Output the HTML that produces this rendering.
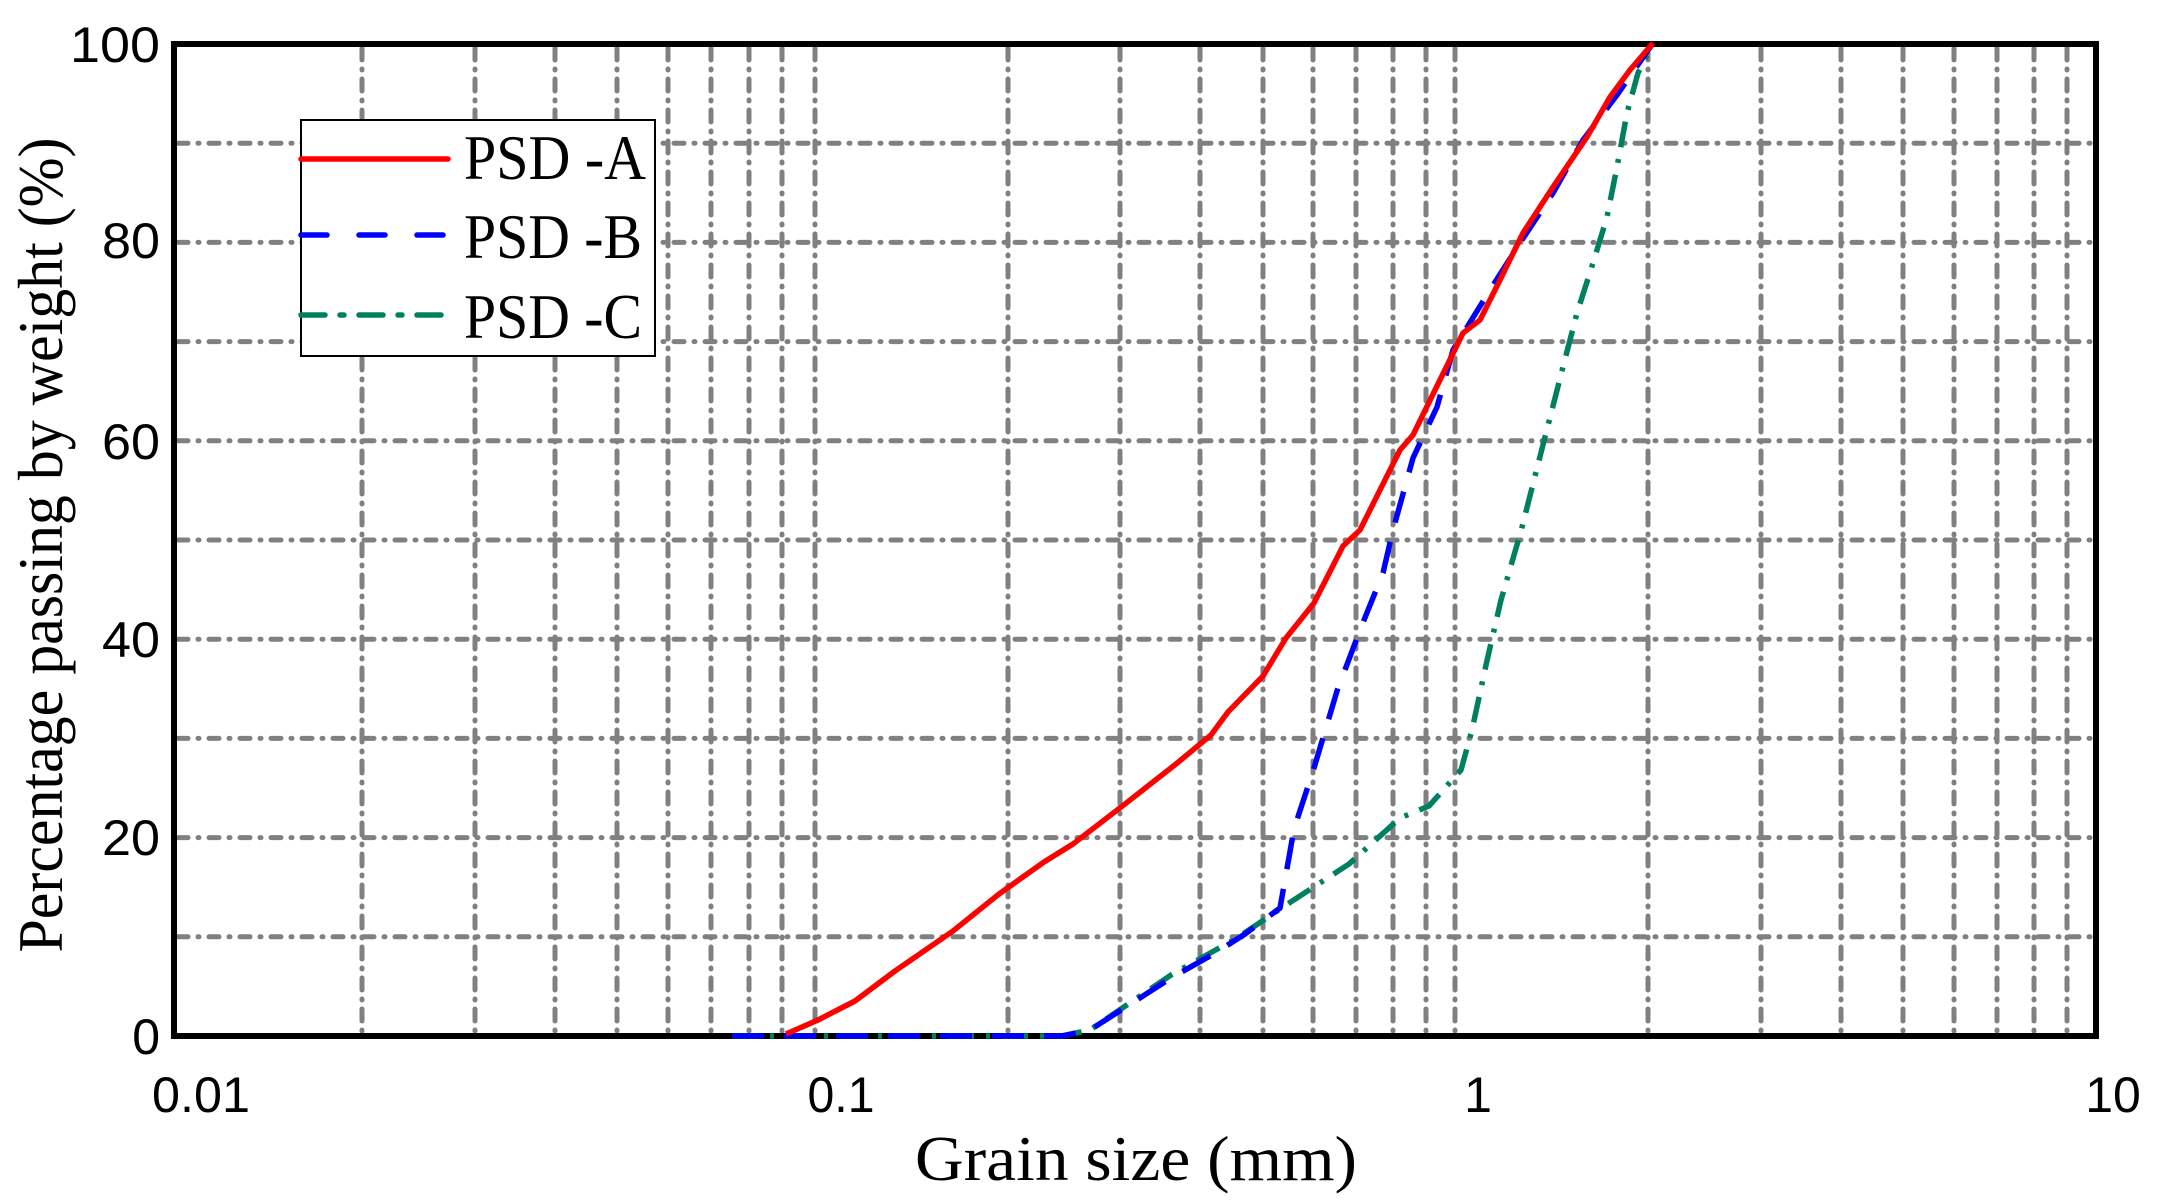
<!DOCTYPE html>
<html><head><meta charset="utf-8"><style>
html,body{margin:0;padding:0;background:#fff;}
svg{display:block;}
</style></head><body>
<svg width="2165" height="1204" viewBox="0 0 2165 1204" xmlns="http://www.w3.org/2000/svg">
<rect width="2165" height="1204" fill="#fff"/>
<g stroke="#808080" stroke-width="5" stroke-linecap="round" fill="none">
<g stroke-dasharray="12 9 1 9">
<path d="M362 48V1033M475 48V1033M555 48V1033M617 48V1033M668 48V1033M711 48V1033M749 48V1033M782 48V1033M815 48V1033
M1008 48V1033M1120 48V1033M1200 48V1033M1263 48V1033M1313 48V1033M1356 48V1033M1393 48V1033M1426 48V1033M1455 48V1033
M1648 48V1033M1761 48V1033M1841 48V1033M1903 48V1033M1954 48V1033M1997 48V1033M2034 48V1033M2067 48V1033"/>
</g>
<g stroke-dasharray="10 10 1 10">
<path d="M178 936.8H2092M178 837.6H2092M178 738.4H2092M178 639.2H2092M178 540H2092M178 440.8H2092M178 341.6H2092M178 242.4H2092M178 143.2H2092"/>
</g>
</g>
<rect x="174" y="44" width="1922" height="992" fill="none" stroke="#000" stroke-width="6"/>
<!-- series -->
<g fill="none" stroke-width="5.5" stroke-linejoin="round">
<polyline stroke="#008060" stroke-dasharray="26 12 4 12" points="732,1036 1062,1036 1090,1030 1171,975 1237,938 1280,909 1349,864 1400,818 1429,806 1461,770 1472,730 1486,665 1501,600 1521,531 1545,437 1563,367 1577,313 1593,263 1607,217 1617,167 1627,113 1638,73 1652,45"/>
<polyline stroke="#0000ff" stroke-dasharray="32 20" points="732,1036 1062,1036 1090,1030 1171,978 1217,952 1245,934 1280,908 1294,829 1314,768 1337,691 1360,630 1383,573 1393,530 1413,458 1437,407 1453,350 1490,290 1520,243 1553,193 1583,140 1617,95 1653,43"/>
<polyline stroke="#ff0000" points="786,1034 818,1020 855,1001 895,971 953,931 999,894 1044,862 1073,844 1125,804 1176,764 1211,735 1228,712 1263,676 1286,638 1314,603 1343,546 1360,530 1400,450 1413,435 1463,333 1480,320 1500,280 1523,233 1553,187 1587,137 1610,97 1630,70 1653,43"/>
</g>
<!-- legend -->
<rect x="301" y="120" width="354" height="236" fill="#fff" stroke="#000" stroke-width="2"/>
<g stroke-width="5.5" stroke-linecap="round">
<line x1="301" y1="159" x2="448" y2="159" stroke="#ff0000"/>
<line x1="301" y1="235" x2="448" y2="235" stroke="#0000ff" stroke-dasharray="26 32"/>
<line x1="301" y1="315" x2="448" y2="315" stroke="#008060" stroke-dasharray="24 15 4 15"/>
</g>
<g font-family="Liberation Serif, serif" font-size="64" fill="#000">
<text x="464" y="179" textLength="182" lengthAdjust="spacingAndGlyphs">PSD -A</text>
<text x="464" y="258" textLength="178" lengthAdjust="spacingAndGlyphs">PSD -B</text>
<text x="464" y="338" textLength="178" lengthAdjust="spacingAndGlyphs">PSD -C</text>
</g>
<!-- tick labels -->
<g font-family="Liberation Sans, sans-serif" font-size="50" fill="#000" text-anchor="end">
<text x="160" y="62" textLength="90" lengthAdjust="spacingAndGlyphs">100</text>
<text x="160" y="258" textLength="58" lengthAdjust="spacingAndGlyphs">80</text>
<text x="160" y="657" textLength="58" lengthAdjust="spacingAndGlyphs">40</text>
<text x="160" y="459" textLength="58" lengthAdjust="spacingAndGlyphs">60</text>
<text x="160" y="855" textLength="58" lengthAdjust="spacingAndGlyphs">20</text>
<text x="160" y="1054">0</text>
</g>
<g font-family="Liberation Sans, sans-serif" font-size="50" fill="#000" text-anchor="middle">
<text x="201" y="1112" textLength="98" lengthAdjust="spacingAndGlyphs">0.01</text>
<text x="841" y="1112" textLength="67" lengthAdjust="spacingAndGlyphs">0.1</text>
<text x="1478" y="1112">1</text>
<text x="2113" y="1112">10</text>
</g>
<text x="1136" y="1180" font-family="Liberation Serif, serif" font-size="64" text-anchor="middle" textLength="442" lengthAdjust="spacingAndGlyphs">Grain size  (mm)</text>
<text transform="translate(62,545) rotate(-90)" font-family="Liberation Serif, serif" font-size="64" text-anchor="middle" textLength="815" lengthAdjust="spacingAndGlyphs">Percentage passing by weight  (%)</text>
</svg>
</body></html>
